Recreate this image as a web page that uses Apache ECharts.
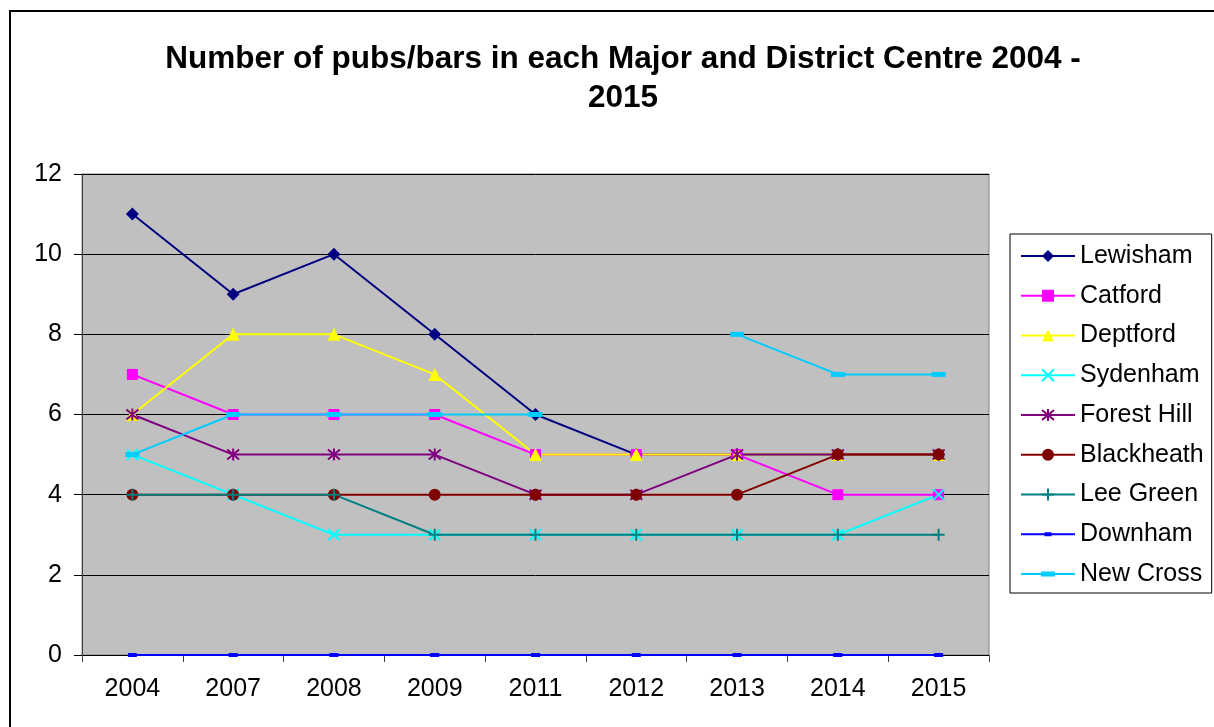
<!DOCTYPE html>
<html>
<head>
<meta charset="utf-8">
<script src="https://cdn.jsdelivr.net/npm/echarts@6/dist/echarts.min.js"></script>
<style>
html,body{margin:0;padding:0;background:#fff;}
#chart{width:1214px;height:727px;}
</style>
</head>
<body>
<div id="chart"></div>
<script>
const years = ['2004','2007','2008','2009','2011','2012','2013','2014','2015'];
const lewisham   = [11, 9, 10, 8, 6, 5, 5, 5, 5];
const catford    = [7, 6, 6, 6, 5, 5, 5, 4, 4];
const deptford   = [6, 8, 8, 7, 5, 5, 5, 5, 5];
const sydenham   = [5, 4, 3, 3, 3, 3, 3, 3, 4];
const forestHill = [6, 5, 5, 5, 4, 4, 5, 5, 5];
const blackheath = [4, 4, 4, 4, 4, 4, 4, 5, 5];
const leeGreen   = [4, 4, 4, 3, 3, 3, 3, 3, 3];
const downham    = [0, 0, 0, 0, 0, 0, 0, 0, 0];
const newCross   = [5, 6, 6, 6, 6, null, 8, 7, 7];
const yTicks = [0, 2, 4, 6, 8, 10, 12];

const FONT = "'Liberation Sans', Arial, sans-serif";

function mk(name, data, color, symbol, size, stroke) {
  const s = {
    name: name,
    type: 'line',
    data: data,
    symbol: symbol,
    symbolSize: size,
    showAllSymbol: true,
    connectNulls: false,
    lineStyle: { color: color, width: 2 },
    itemStyle: { color: color },
    emphasis: { disabled: true },
    animation: false
  };
  if (stroke) {
    s.itemStyle = { color: color, borderColor: color, borderWidth: 2 };
  }
  return s;
}

// legend icons (line + short dash) for the two dash-marker series
const BOX = 'M0,0L0.01,0L0,0.01Z M54,15L53.99,15L54,14.99Z ';
const downhamIcon = 'path://' + BOX +
  'M0,6.5L23.5,6.5L23.5,5.5L30.5,5.5L30.5,6.5L54,6.5L54,8.5L30.5,8.5L30.5,9.5L23.5,9.5L23.5,8.5L0,8.5Z';
const newCrossIcon = 'path://' + BOX +
  'M0,6.5L20,6.5L20,5L34,5L34,6.5L54,6.5L54,8.5L34,8.5L34,10L20,10L20,8.5L0,8.5Z';

const chart = echarts.init(document.getElementById('chart'), null, { renderer: 'canvas' });
chart.setOption({
  backgroundColor: '#ffffff',
  animation: false,
  textStyle: { fontFamily: FONT },
  graphic: [{
    type: 'rect',
    silent: true,
    z: -10,
    shape: { x: 10, y: 11, width: 1300, height: 800 },
    style: { fill: 'none', stroke: '#000', lineWidth: 2 }
  }],
  title: {
    text: 'Number of pubs/bars in each Major and District Centre 2004 -\n2015',
    left: 618,
    top: 35,
    textAlign: 'center',
    textStyle: { fontFamily: FONT, fontSize: 31.5, fontWeight: 'bold', color: '#000', lineHeight: 39 }
  },
  grid: {
    left: 82, top: 174, right: 225, bottom: 72,
    show: true,
    backgroundColor: '#C0C0C0',
    borderColor: '#808080',
    borderWidth: 1
  },
  legend: {
    orient: 'vertical',
    left: 1010,
    top: 234,
    padding: [9, 8, 6, 10],
    itemWidth: 54,
    itemHeight: 15,
    itemGap: 13.75,
    borderColor: '#000',
    borderWidth: 1,
    backgroundColor: '#fff',
    textStyle: { fontFamily: FONT, fontSize: 25, color: '#000', lineHeight: 26 },
    data: ['Lewisham','Catford','Deptford','Sydenham','Forest Hill','Blackheath','Lee Green',
      { name: 'Downham', icon: downhamIcon },
      { name: 'New Cross', icon: newCrossIcon }]
  },
  xAxis: {
    type: 'category',
    data: years,
    boundaryGap: true,
    axisLine: { show: true, lineStyle: { color: '#000', width: 1 } },
    axisTick: { show: true, inside: false, length: 7, lineStyle: { color: '#404040' } },
    axisLabel: { fontFamily: FONT, fontSize: 25, color: '#000', margin: 22 },
    splitLine: { show: false }
  },
  yAxis: {
    type: 'value',
    min: 0, max: 12, interval: 2,
    axisLine: { show: true, lineStyle: { color: '#404040', width: 1 } },
    axisTick: { show: true, inside: false, length: 8, lineStyle: { color: '#000' } },
    axisLabel: {
      fontFamily: FONT, fontSize: 25, color: '#000', margin: 20,
      formatter: function (v) { return yTicks.indexOf(v) >= 0 ? String(v) : ''; }
    },
    splitLine: { show: true, lineStyle: { color: '#000', width: 1 } }
  },
  series: [
    mk('Lewisham', lewisham, '#000080', 'diamond', 13),
    mk('Catford', catford, '#FF00FF', 'rect', 11),
    mk('Deptford', deptford, '#FFFF00', 'triangle', 13),
    mk('Sydenham', sydenham, '#00FFFF', 'path://M0,0L10,10M10,0L0,10', 11, true),
    mk('Forest Hill', forestHill, '#800080', 'path://M0,0L10,10M10,0L0,10M5,-1L5,11', 12, true),
    mk('Blackheath', blackheath, '#800000', 'circle', 12),
    mk('Lee Green', leeGreen, '#008080', 'path://M5,0L5,10M0,5L10,5', 12, true),
    mk('Downham', downham, '#0000FF', 'rect', [9, 4]),
    mk('New Cross', newCross, '#00CCFF', 'rect', [14, 5])
  ]
});
</script>
</body>
</html>
